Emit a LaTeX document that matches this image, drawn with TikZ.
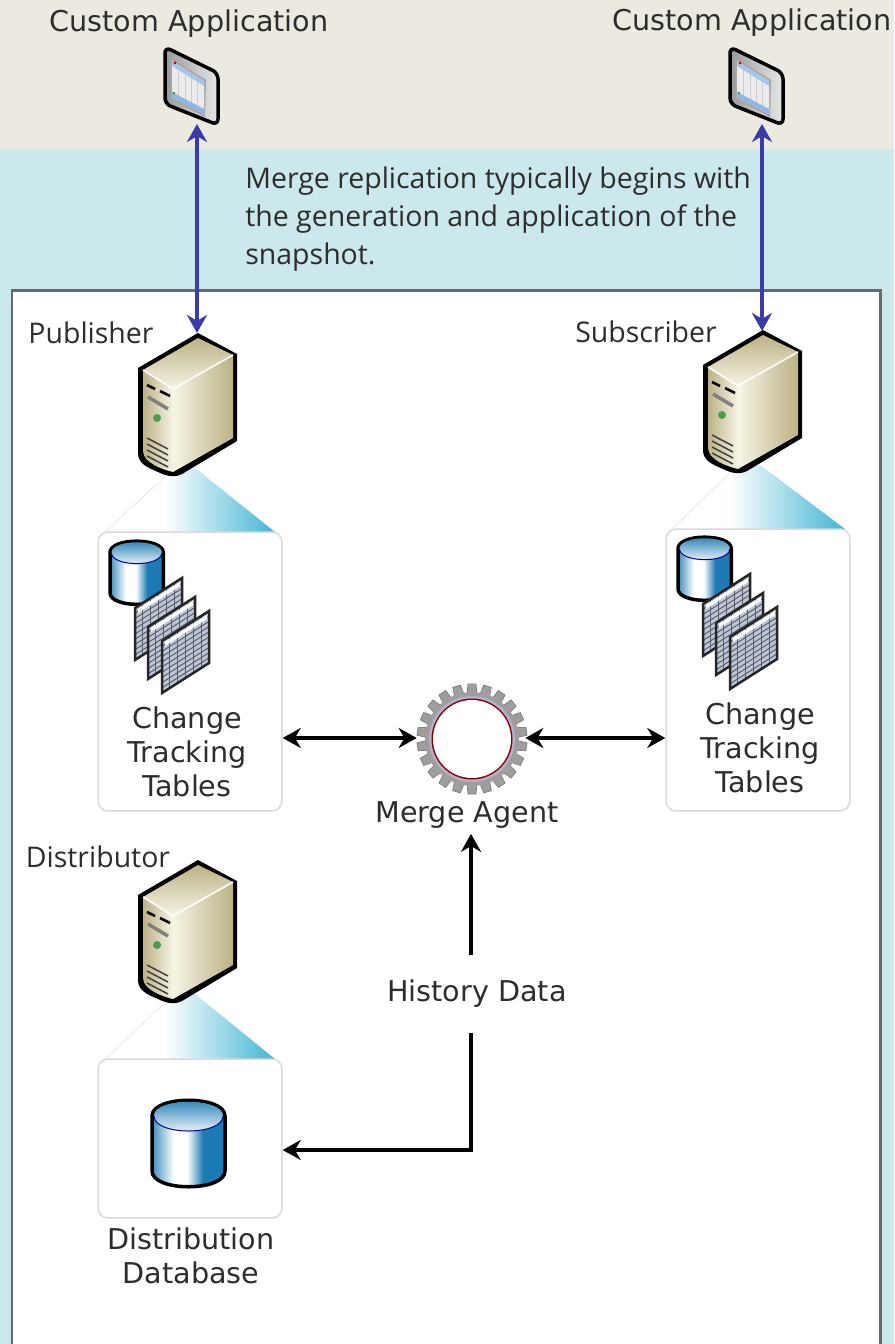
\documentclass[tikz,border=0pt]{standalone}
\usepackage{fontspec}
\usetikzlibrary{arrows.meta}
\setmainfont{DejaVu Sans}
\newfontfamily\notefont{Open Sans}
\definecolor{sandbg}{RGB}{236,234,224}
\definecolor{icebg}{RGB}{203,232,236}
\definecolor{framegray}{RGB}{105,105,105}
\definecolor{boxgray}{RGB}{218,218,218}
\definecolor{linkblue}{RGB}{58,58,168}
\definecolor{conecyan}{RGB}{66,182,212}
\definecolor{dbblue}{RGB}{30,122,178}
\definecolor{inktext}{RGB}{45,45,45}
\definecolor{servlight}{RGB}{246,244,228}
\definecolor{servmid}{RGB}{222,216,184}
\definecolor{servdark}{RGB}{188,178,134}
\definecolor{cellblue}{RGB}{188,198,214}
\definecolor{gridgray}{RGB}{92,94,104}
\definecolor{gearfill}{RGB}{158,158,158}
\pgfdeclarehorizontalshading{dbbody}{100bp}{color(0bp)=(dbblue!85);color(25bp)=(dbblue!85);color(40bp)=(white);color(49bp)=(white);color(60bp)=(dbblue);color(100bp)=(dbblue)}
\tikzset{
  labeltext/.style={inner sep=0pt,text=inktext,align=center,font=\fontsize{16.3}{19.3}\selectfont},
  notetext/.style={inner sep=0pt,text=inktext,align=left,font=\notefont\fontsize{16.2}{21.6}\selectfont},
  panel/.style={draw=boxgray,line width=0.03cm,fill=white,rounded corners=0.2cm,inner sep=0pt,minimum width=3.68cm},
  applink/.style={{Stealth[length=0.36cm,width=0.4cm]}-{Stealth[length=0.36cm,width=0.4cm]},draw=linkblue,line width=0.07cm},
  flow/.style={{Stealth[length=0.36cm,width=0.4cm]}-{Stealth[length=0.36cm,width=0.4cm]},line width=0.07cm},
  flowup/.style={-{Stealth[length=0.36cm,width=0.4cm]},line width=0.07cm},
  pics/server/.style={code={
    \fill[black] (0,-2)--(39,19)--(39,106)--(-16,139) .. controls (-24,143) and (-32,141) .. (-40,137) .. controls (-52,132) and (-60,128) .. (-60,118)--(-60,33)--cycle;
    \shade[top color=servdark,bottom color=servlight] (0,3)--(35,20)--(-25,54)--(-55,35)--cycle;
    \shade[left color=servlight,right color=servdark] (-25,54)--(35,20)--(35,103)--(-25,137)--cycle;
    \shade[left color=servdark,right color=servlight] (-55,35)--(-25,54)--(-25,137) .. controls (-34,135) and (-55,128) .. (-55,116)--cycle;
    \draw[white,line width=0.03cm] (-55,35)--(-25,54)--(35,20);
    \draw[black,line width=0.05cm] (-51,50)--(-43,54) (-38,56)--(-28,61);
    \draw[gray,line width=0.07cm] (-50,62)--(-30,74);
    \fill[green!45!black!70] (-41,83) circle (4);
    \foreach \i in {0,1,2,3}
      \draw[black!75,line width=0.03cm] (-51,103+\i*6)--(-30,114+\i*6);
  }},
  pics/dbcan/.style={code={
    \shade[shading=dbbody,draw=black,line width=0.07cm] (0,16)--(0,71) .. controls (0,92) and (73,92) .. (73,71)--(73,16) .. controls (73,-5) and (0,-5) .. (0,16)--cycle;
    \shade[top color=dbblue,bottom color=white] (2,16) .. controls (2,-3) and (71,-3) .. (71,16) .. controls (71,36) and (2,36) .. (2,16)--cycle;
    \draw[blue!60!black,line width=0.02cm] (2,16) .. controls (2,36) and (71,36) .. (71,16);
  }},
  pics/sheet/.style={code={
    \fill[cellblue] (0,0)--(47,-30)--(47,22)--(0,52)--cycle;
    \foreach \i in {1,...,9}
      \draw[gridgray,line width=0.02cm] (0,\i*5.2)--(47,\i*5.2-30);
    \foreach \i in {1,...,5}
      \draw[gridgray,line width=0.02cm] (\i*7.8,-\i*5)--(\i*7.8,52-\i*5);
    \fill[white] (3,1)--(45,-26)--(45,-22)--(3,5)--cycle;
    \draw[black!85,line width=0.05cm] (0,0)--(47,-30)--(47,22)--(0,52)--cycle;
  }},
  pics/tablestack/.style={code={
    \pic at (135,608) {sheet};
    \pic at (148,627) {sheet};
    \pic at (162,641) {sheet};
  }},
  pics/appscreen/.style={code={
    \shade[left color=black!40,right color=green!8!black!10,draw=black,line width=0.07cm,rounded corners=0.12cm] (0,0)--(53,26)--(53,78)--(0,57)--cycle;
    \fill[black!35] (5,11)--(41,33)--(40,70)--(6,52)--cycle;
    \fill[black!8] (7,14)--(39,34)--(39,67)--(7,50)--cycle;
    \foreach \i in {1,2,3,4}
      \draw[black!20,line width=0.01cm] (7+\i*6.4,14+\i*4)--(7+\i*6.4,50+\i*3.4);
    \fill[cyan!60!blue!35] (7,14)--(39,34)--(39,39)--(7,19)--cycle;
    \fill[cyan!60!blue!45] (7,45)--(39,62)--(39,67)--(7,50)--cycle;
    \fill[red!75!black] (10,16) circle (1.5);
    \fill[green!60!black] (9,46) circle (1.2);
  }},
  pics/gear/.style={code={
    \foreach \i in {1,...,22}
      \fill[gearfill,draw=black!50,line width=0.015cm,rotate=\i*16.3636] (-5,44)--(-4,55)--(4,55)--(5,44)--cycle;
    \fill[gearfill] (0,0) circle (47);
    \fill[blue!20!gray!50] (0,0) circle (43);
    \fill[red!55!black] (0,0) circle (40.5);
    \fill[white] (0,0) circle (39);
  }}
}
\begin{document}
\begin{tikzpicture}[x=0.02cm,y=-0.02cm,line cap=butt,line join=miter,>=stealth]
\useasboundingbox (0,0) rectangle (894,1344);
\clip (0,0) rectangle (894,1344);
\fill[icebg] (0,0) rectangle (894,1344);
\fill[sandbg] (0,0) rectangle (894,150);
\draw[framegray,line width=0.06cm,fill=white] (12,291) rectangle (880,1360);

% cones under the servers
\draw[black!8,line width=0.02cm] (170,472)--(105,532);
\draw[black!8,line width=0.02cm] (735,468)--(672,529);
\draw[black!8,line width=0.02cm] (170,998)--(105,1059);
\shade[left color=white,right color=conecyan] (165,532)--(165,473)--(195,468)--(275,532)--cycle;
\shade[left color=white,right color=conecyan] (730,529)--(730,470)--(760,465)--(845,529)--cycle;
\shade[left color=white,right color=conecyan] (165,1059)--(165,999)--(195,994)--(275,1059)--cycle;

\node[panel,minimum height=5.58cm] (pubbox) at (190,671.5) {};
\node[panel,minimum height=5.64cm] (subbox) at (758,670) {};
\node[panel,minimum height=3.18cm] (distbox) at (190,1138.5) {};

\pic at (198,335) {server};
\pic at (763,332) {server};
\pic at (198,862) {server};
\pic at (165,47) {appscreen};
\pic at (730,47) {appscreen};
\pic[scale=0.73] at (110,541) {dbcan};
\pic at (0,0) {tablestack};
\pic[scale=0.73] at (678,537) {dbcan};
\pic at (568,-4) {tablestack};
\pic at (152,1100) {dbcan};
\pic at (472,739) {gear};

\coordinate (pubapp) at (197,124);
\coordinate (subapp) at (762,124);
\coordinate (pubserver) at (197,333);
\coordinate (subserver) at (762,331);
\coordinate (histcorner) at (471,1150);
\node[circle,minimum size=2.16cm,inner sep=0pt] (agent) at (471,738) {};

\node[labeltext] (pubapplabel) at (189,24) {Custom Application};
\node[labeltext] (subapplabel) at (752,23) {Custom Application};
\node[notetext,anchor=north west] (note) at (245,167) {Merge replication typically begins with\\the generation and application of the\\snapshot.};
\node[notetext] (publabel) at (91,333) {Publisher};
\node[notetext] (sublabel) at (646,332) {Subscriber};
\node[notetext] (distlabel) at (98,857) {Distributor};
\node[labeltext] (pubtables) at (187,752) {Change\\Tracking\\Tables};
\node[labeltext] (subtables) at (760,748) {Change\\Tracking\\Tables};
\node[labeltext,minimum height=0.74cm] (agentlabel) at (467,815) {Merge Agent};
\node[labeltext,minimum height=1.56cm] (history) at (477,994) {History Data};
\node[labeltext] (distdb) at (191,1256) {Distribution\\Database};

\draw[applink] (pubapp)--(pubserver);
\draw[applink] (subapp)--(subserver);
\draw[flow] (pubbox.east |- agent.west)--(agent.west);
\draw[flow] (agent.east)--(subbox.west |- agent.east);
\draw[flowup] (history.north -| agent)--(agentlabel.south -| agent);
\draw[flowup] (history.south -| agent)--(histcorner)--(distbox.east |- histcorner);
\end{tikzpicture}
\end{document}
